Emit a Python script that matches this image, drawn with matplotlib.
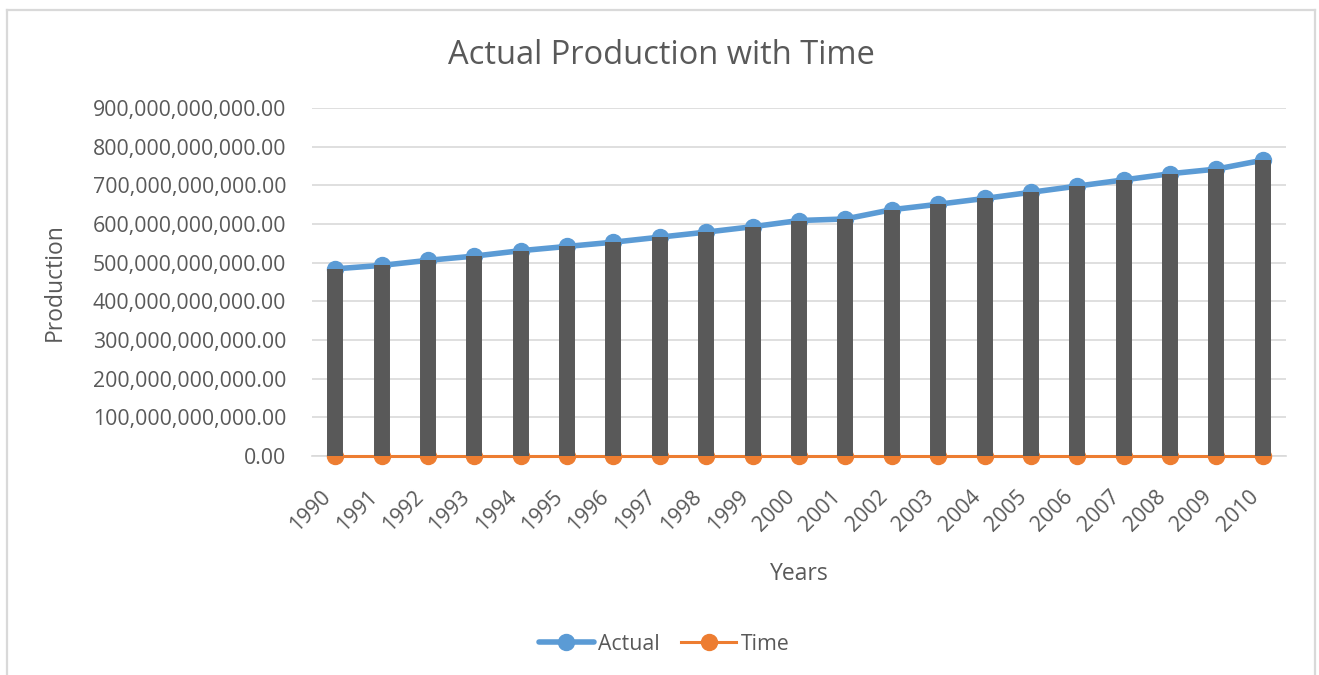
import matplotlib
matplotlib.use("Agg")
import matplotlib.pyplot as plt
from matplotlib.lines import Line2D
from matplotlib.ticker import FuncFormatter
import numpy as np

plt.rcParams['font.family'] = ['Open Sans', 'DejaVu Sans']

years = [1990, 1991, 1992, 1993, 1994, 1995, 1996, 1997, 1998, 1999, 2000,
         2001, 2002, 2003, 2004, 2005, 2006, 2007, 2008, 2009, 2010]
actual = [484e9, 493e9, 506e9, 517e9, 531e9, 542e9, 553e9, 566e9, 579e9, 593e9, 609e9,
          613e9, 637e9, 651e9, 666e9, 682e9, 698e9, 714e9, 730e9, 742e9, 765e9]
time_vals = list(range(1, 22))
y_ticks = [0, 100e9, 200e9, 300e9, 400e9, 500e9, 600e9, 700e9, 800e9, 900e9]

TEXT = '#595959'
GRID = '#d9d9d9'
BLUE = '#5B9BD5'
ORANGE = '#ED7D31'

W, H = 1319, 675
fig = plt.figure(figsize=(W / 100, H / 100), dpi=100)
fig.patch.set_facecolor('white')


def fx(px):
    return px / W


def fy(py):
    return 1 - py / H


# chart-area border (left, top, right; bottom runs off the canvas)
for xs, ys in [([7, 7], [10, H + 5]), ([7, 1315], [10, 10]), ([1315, 1315], [10, H + 5])]:
    fig.add_artist(Line2D([fx(v) for v in xs], [fy(v) for v in ys],
                          color=GRID, linewidth=1.6, transform=fig.transFigure))

ax = fig.add_axes([fx(312), fy(456), fx(1286) - fx(312), fy(108) - fy(456)])
x = np.arange(len(years))

ax.plot(x, actual, color=BLUE, linewidth=4.0, marker='o', markersize=11.5,
        solid_capstyle='round', zorder=3, clip_on=False, label='Actual')
ax.plot(x, time_vals, color=ORANGE, linewidth=2.2, marker='o', markersize=11.5,
        zorder=3, clip_on=False, label='Time')
# high-low lines between the two series
ax.vlines(x, time_vals, actual, color='#595959', linewidth=11.5, zorder=4)

ax.set_xlim(-0.5, len(years) - 0.5)
ax.set_ylim(0, 900e9)
ax.set_yticks(y_ticks)
ax.yaxis.set_major_formatter(FuncFormatter(lambda v, p: f"{v:,.2f}"))
ax.set_xticks(x)
ax.set_xticklabels([str(y) for y in years], rotation=45, ha='right',
                   rotation_mode='default')

ax.grid(axis='y', color=GRID, linewidth=1.2, zorder=0)
ax.set_axisbelow(True)
for s in ['top', 'right', 'left']:
    ax.spines[s].set_visible(False)
ax.spines['bottom'].set_color(GRID)
ax.spines['bottom'].set_linewidth(1.2)
ax.spines['bottom'].set_zorder(1)
ax.tick_params(axis='both', length=0, colors=TEXT, labelsize=15.3)
ax.tick_params(axis='y', pad=18.5)
ax.tick_params(axis='x', pad=22)

fig.text(fx(661), fy(56), 'Actual Production with Time', fontsize=23.5,
         color=TEXT, ha='center', va='center')
ax.set_xlabel('Years', fontsize=16.5, color=TEXT, labelpad=19)
ax.set_ylabel('Production', fontsize=16.5, color=TEXT)
ax.yaxis.set_label_coords(-(312 - 67) / 974, 0.5)

fig.legend(loc='center', bbox_to_anchor=(fx(664), fy(644)), ncol=2,
           frameon=False, fontsize=15.3, handlelength=2.6,
           columnspacing=1.0, handletextpad=0.2, labelcolor=TEXT)

fig.savefig('out.png', dpi=100, facecolor='white')
